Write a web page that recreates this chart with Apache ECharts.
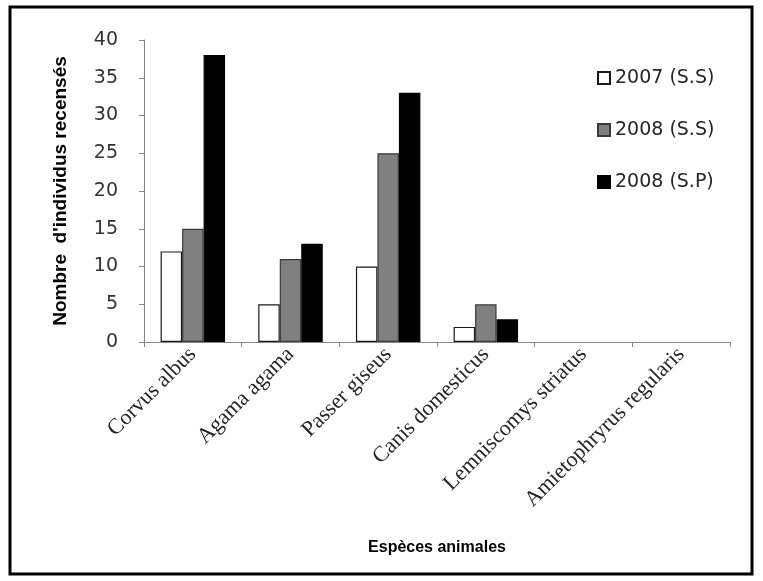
<!DOCTYPE html>
<html>
<head>
<meta charset="utf-8">
<script src="https://cdn.jsdelivr.net/npm/echarts@6/dist/echarts.min.js"></script>
<style>
  html, body { margin: 0; padding: 0; background: #fff; }
  #chart { width: 763px; height: 581px; }
</style>
</head>
<body>
<div id="chart"></div>
<script>
// Espèces recensées et effectifs par saison
const categories = [
  'Corvus albus',
  'Agama agama',
  'Passer giseus',
  'Canis domesticus',
  'Lemniscomys striatus',
  'Amietophryrus regularis'
];
const seriesNames = ['2007 (S.S)', '2008 (S.S)', '2008 (S.P)'];
const values2007SS = [12, 5, 10, 2, 0, 0];
const values2008SS = [15, 11, 25, 5, 0, 0];
const values2008SP = [38, 13, 33, 3, 0, 0];
const yTicks = { min: 0, max: 40, interval: 5 };

const fills = ['#ffffff', '#808080', '#000000'];
const borders = ['#1a1a1a', '#3a3a3a', '#000000'];
const seriesValues = [values2007SS, values2008SS, values2008SP];

// empty bars get no outline so nothing shows on the axis line
function toBarData(list) {
  return list.map(v => v === 0 ? { value: v, itemStyle: { borderWidth: 0 } } : v);
}

const chart = echarts.init(document.getElementById('chart'), null, { renderer: 'canvas' });

const option = {
  backgroundColor: '#ffffff',
  animation: false,
  graphic: [{
    type: 'rect',
    shape: { x: 10, y: 7, width: 742, height: 567 },
    style: { fill: 'none', stroke: '#000000', lineWidth: 3 },
    silent: true
  }],
  grid: { left: 144, right: 33, top: 40, bottom: 239, containLabel: false },
  legend: {
    orient: 'vertical',
    left: 597,
    top: 68,
    padding: 0,
    itemWidth: 12,
    itemHeight: 12,
    itemGap: 32,
    icon: 'rect',
    data: seriesNames,
    textStyle: {
      fontFamily: 'DejaVu Sans',
      fontSize: 19,
      color: '#262626',
      lineHeight: 20
    }
  },
  xAxis: {
    type: 'category',
    data: categories,
    name: 'Espèces animales',
    nameLocation: 'middle',
    nameGap: 198,
    nameTextStyle: {
      fontFamily: 'Liberation Sans',
      fontWeight: 'bold',
      fontSize: 16,
      color: '#000000'
    },
    axisLine: { lineStyle: { color: '#868686', width: 1 } },
    axisTick: { show: true, length: 5, lineStyle: { color: '#868686' } },
    axisLabel: {
      interval: 0,
      rotate: 45,
      margin: 9,
      fontFamily: 'Liberation Serif',
      fontSize: 22,
      color: '#262626'
    }
  },
  yAxis: {
    type: 'value',
    min: yTicks.min,
    max: yTicks.max,
    interval: yTicks.interval,
    name: "Nombre  d'individus recensés",
    nameLocation: 'middle',
    nameRotate: 90,
    nameGap: 74,
    nameTextStyle: {
      fontFamily: 'Liberation Sans',
      fontWeight: 'bold',
      fontSize: 19,
      color: '#000000'
    },
    axisLine: { show: true, lineStyle: { color: '#868686', width: 1 } },
    axisTick: { show: true, length: 5, lineStyle: { color: '#868686' } },
    splitLine: { show: false },
    axisLabel: {
      margin: 26,
      fontFamily: 'DejaVu Sans',
      fontSize: 19,
      color: '#333333'
    }
  },
  series: seriesNames.map((name, i) => ({
    name: name,
    type: 'bar',
    data: toBarData(seriesValues[i]),
    barGap: '0%',
    barCategoryGap: '34%',
    itemStyle: {
      color: fills[i],
      borderColor: borders[i],
      borderWidth: 1.2
    }
  }))
};

chart.setOption(option);
</script>
</body>
</html>
